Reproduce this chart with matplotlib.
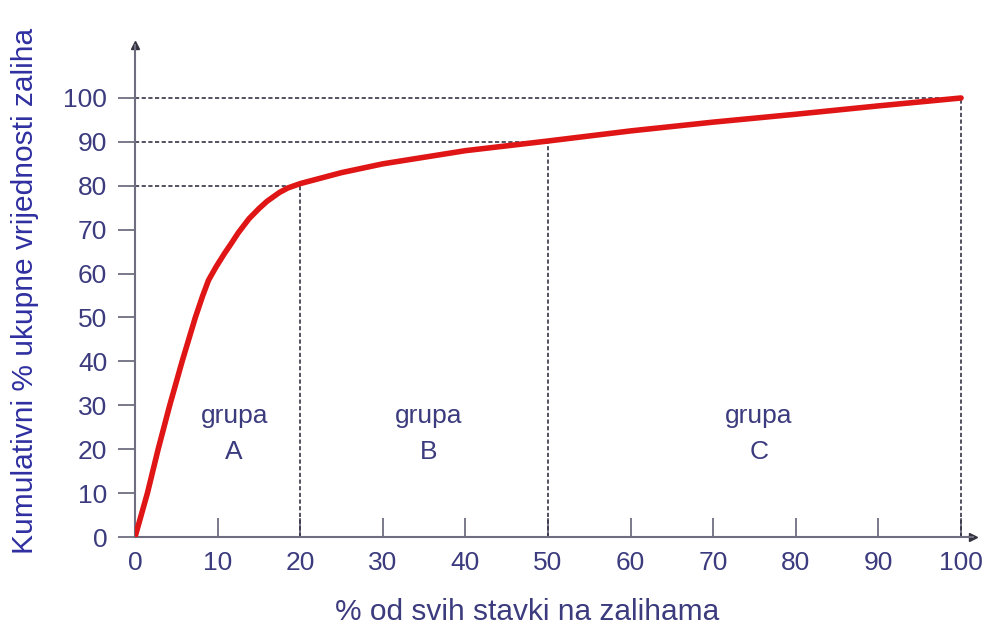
import matplotlib
matplotlib.use("Agg")
import matplotlib.pyplot as plt

plt.rcParams['font.family'] = ['Liberation Sans', 'DejaVu Sans']

# Cumulative curve
pct_items = [0, 1.5, 2.8, 4.2, 5.7, 7.3, 8.2, 8.9, 9.8, 10.8, 11.7, 12.5,
             13.8, 15, 16, 17.5, 18.5, 20, 25, 30, 40, 50, 60, 70, 80, 90, 100]
pct_value = [0, 10, 20, 30, 40, 50, 55, 58.5, 61.5, 64.5, 67, 69.3,
             72.5, 74.8, 76.5, 78.5, 79.5, 80.5, 83, 85, 88, 90.2, 92.5,
             94.5, 96.3, 98.2, 100]

# Group borders (x, y)
cut_x = [20, 50, 100]
cut_y = [80, 90, 100]

groups = ["grupa\nA", "grupa\nB", "grupa\nC"]
group_x = [12, 35.5, 75.5]
group_y = 23.5

x_ticks = list(range(0, 101, 10))
y_ticks = list(range(0, 101, 10))

tick_col = "#3b3b7e"
label_col = "#2f2fa0"
axis_col = "#6e6e80"

fig = plt.figure(figsize=(9.82, 6.3), dpi=100)
ax = fig.add_axes([0.1375, 0.1476, 0.8538, 0.7805])
ax.set_xlim(0, 101.5)
ax.set_ylim(0, 112)

for sp in ["top", "right"]:
    ax.spines[sp].set_visible(False)
for sp in ["left", "bottom"]:
    ax.spines[sp].set_color(axis_col)
    ax.spines[sp].set_linewidth(1.5)

# arrow heads
ax.plot(1, 0, ">", color="#333340", markersize=6, transform=ax.transAxes, clip_on=False)
ax.plot(0, 1, "^", color="#333340", markersize=6, transform=ax.transAxes, clip_on=False)

# dashed guide lines
for cx, cy in zip(cut_x, cut_y):
    ax.plot([0, cx], [cy, cy], linestyle=(0, (2.5, 1.5)), color="#333344", lw=1.2)
    ax.plot([cx, cx], [0, cy], linestyle=(0, (2.5, 1.5)), color="#333344", lw=1.2)

ax.plot(pct_items, pct_value, color="#e01515", lw=4, solid_capstyle="round",
        solid_joinstyle="round", zorder=5)

ax.set_xticks(x_ticks)
ax.set_yticks(y_ticks)
ax.tick_params(axis="x", direction="in", length=14, width=1.3, color=axis_col,
               labelsize=19, labelcolor=tick_col, pad=10)
ax.tick_params(axis="y", direction="out", length=12, width=1.3, color=axis_col,
               labelsize=19, labelcolor=tick_col, pad=8)

for g, gx in zip(groups, group_x):
    ax.text(gx, group_y, g, ha="center", va="center", fontsize=19,
            color=tick_col, linespacing=1.6)

ax.text(47.5, -17, "% od svih stavki na zalihama", ha="center", va="center",
        fontsize=21.5, color=tick_col)
ax.text(-13.3, 56, "Kumulativni % ukupne vrijednosti zaliha", ha="center",
        va="center", rotation=90, fontsize=21.5, color=label_col)

fig.savefig("out.png", dpi=100)
